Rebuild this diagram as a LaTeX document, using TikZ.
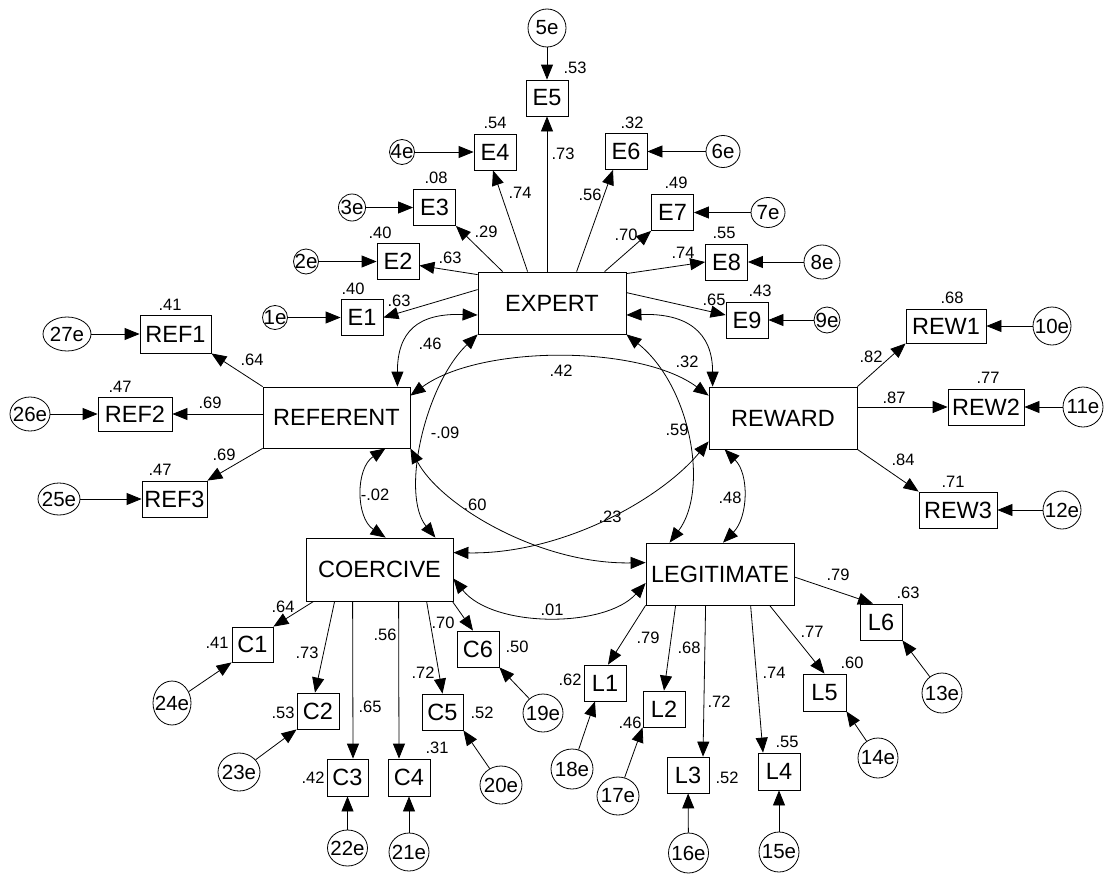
\documentclass[tikz,border=0pt]{standalone}
\usepackage{fontspec}
\setmainfont{Liberation Sans}
\usetikzlibrary{shapes.geometric,arrows.meta,calc}
\newcommand\errnode[5]{\node[err,minimum width=#4pt,minimum height=#5pt,label={[errlab,name=le#1]center:#1e}] (e#1) at (#2,#3) {};}
\newcommand\lbl[3]{\node[numlab] (#1) at (#2) {#3};}
\begin{document}
\begin{tikzpicture}[x=1pt,y=-1pt,
  >={Triangle[length=15pt,width=12pt]},
  lat/.style={draw,line width=0.8pt,minimum width=148pt,minimum height=62pt,inner sep=0pt,font=\fontsize{23.5}{25}\selectfont},
  obs/.style={draw,line width=0.8pt,minimum width=42pt,minimum height=36pt,inner sep=0pt,font=\fontsize{23.5}{25}\selectfont},
  err/.style={draw,ellipse,line width=0.8pt,inner sep=0pt},
  errlab/.style={inner sep=0pt,font=\fontsize{20.5}{22}\selectfont},
  numlab/.style={inner sep=0pt,font=\fontsize{16.5}{18}\selectfont},
  ld/.style={->,line width=0.8pt},
  cv/.style={<->,line width=0.8pt}]
\useasboundingbox (0,0) rectangle (1107,875);

% latent
\node[lat] (EXPERT) at (552,303) {EXPERT};
\node[lat,minimum width=147pt,minimum height=61pt] (REFERENT) at (336.5,417.5) {REFERENT};
\node[lat] (REWARD) at (783,418) {REWARD};
\node[lat,minimum width=147pt,minimum height=63pt] (COERCIVE) at (379.5,569.5) {COERCIVE};
\node[lat] (LEGITIMATE) at (720,574) {LEGITIMATE};

% observed
\node[obs] (E1) at (362,317.5) {E1};
\node[obs] (E2) at (398,261.5) {E2};
\node[obs] (E3) at (434.5,207.5) {E3};
\node[obs] (E4) at (495,152) {E4};
\node[obs] (E5) at (547,98) {E5};
\node[obs] (E6) at (626,151.5) {E6};
\node[obs] (E7) at (672.5,212.5) {E7};
\node[obs] (E8) at (726.5,262) {E8};
\node[obs] (E9) at (747,320) {E9};
\node[obs,minimum width=71pt,minimum height=38pt] (REF1) at (175.5,334) {REF1};
\node[obs,minimum width=74pt,minimum height=34pt] (REF2) at (135,414) {REF2};
\node[obs,minimum width=65pt,minimum height=36pt] (REF3) at (174.5,499) {REF3};
\node[obs,minimum width=80pt,minimum height=34pt] (REW1) at (946,326) {REW1};
\node[obs,minimum width=76pt,minimum height=36pt] (REW2) at (986,407) {REW2};
\node[obs,minimum width=78pt,minimum height=36pt] (REW3) at (958,510) {REW3};
\node[obs,minimum width=41pt,minimum height=35pt] (C1) at (252.5,644.5) {C1};
\node[obs] (C2) at (318,711) {C2};
\node[obs,minimum width=41pt,minimum height=37pt] (C3) at (347.5,777.5) {C3};
\node[obs,minimum height=37pt] (C4) at (409,777.5) {C4};
\node[obs,minimum width=41pt] (C5) at (442.5,712) {C5};
\node[obs] (C6) at (478,649) {C6};
\node[obs] (L1) at (605,683) {L1};
\node[obs] (L2) at (664,709) {L2};
\node[obs] (L3) at (688,775) {L3};
\node[obs,minimum height=37pt] (L4) at (779,771.5) {L4};
\node[obs,minimum width=43pt,minimum height=37pt] (L5) at (824.5,692.5) {L5};
\node[obs] (L6) at (881,622) {L6};

% errors
\errnode{1}{275}{317.5}{25}{24}
\errnode{2}{306}{261.5}{25}{25}
\errnode{3}{352}{207.5}{27}{27}
\errnode{4}{402}{152}{25}{25}
\errnode{5}{547}{28}{38}{38}
\errnode{6}{723}{151.5}{34}{32}
\errnode{7}{768}{212.5}{34}{30}
\errnode{8}{822}{262}{36}{34}
\errnode{9}{827}{320}{26}{26}
\errnode{10}{1052}{326}{38}{38}
\errnode{11}{1083}{407}{40}{40}
\errnode{12}{1062}{510}{38}{38}
\errnode{13}{942}{693}{40}{40}
\errnode{14}{878}{758}{40}{40}
\errnode{15}{779}{852}{40}{40}
\errnode{16}{688.5}{853}{40}{40}
\errnode{17}{618}{796}{42}{38}
\errnode{18}{572}{769}{42}{40}
\errnode{19}{543}{713}{40}{38}
\errnode{20}{501}{785}{42}{38}
\errnode{21}{409}{852}{40}{38}
\errnode{22}{347.5}{848}{40}{36}
\errnode{23}{239}{772}{42}{38}
\errnode{24}{172}{703}{38}{44}
\errnode{25}{59}{499}{42}{32}
\errnode{26}{30}{414}{40}{34}
\errnode{27}{67}{334}{48}{34}

% error arrows
\foreach \i/\t in {1/E1,2/E2,3/E3,4/E4,5/E5,6/E6,7/E7,8/E8,9/E9,10/REW1,11/REW2,12/REW3,15/L4,16/L3,21/C4,22/C3,25/REF3,26/REF2,27/REF1}
  \draw[ld] (e\i) -- (\t);
\draw[ld] (e13) -- (L6.south east);
\draw[ld] (e14) -- (L5.south east);
\draw[ld] (e17) -- (L2.south west);
\draw[ld] (e18) -- ($(L1.south)+(-10,0)$);
\draw[ld] (e19) -- (C6.south east);
\draw[ld] (e20) -- (C5.south east);
\draw[ld] (e23) -- (C2.south west);
\draw[ld] (e24) -- (C1.south west);

% loadings
\draw[ld] ($(EXPERT.north west)+(0,18)$) -- (E1.east);
\draw[ld] ($(EXPERT.north west)+(0,3)$) -- ($(E2.east)+(0,4)$);
\draw[ld] ($(EXPERT.north west)+(25,0)$) -- (E3.south east);
\draw[ld] ($(EXPERT.north west)+(50,0)$) -- ($(E4.south)+(-2,0)$);
\draw[ld] (EXPERT.north -| E5.south) -- (E5.south);
\draw[ld] ($(EXPERT.north west)+(99,0)$) -- ($(E6.south)+(-13,0)$);
\draw[ld] ($(EXPERT.north west)+(127,0)$) -- (E7.south west);
\draw[ld] ($(EXPERT.north east)+(0,2)$) -- (E8.west);
\draw[ld] ($(EXPERT.north east)+(0,21)$) -- ($(E9.west)+(0,-5)$);

\draw[ld] (REFERENT.north west) -- (REF1.south east);
\draw[ld] (REFERENT.west |- REF2.east) -- (REF2.east);
\draw[ld] (REFERENT.south west) -- (REF3.north east);

\draw[ld] (REWARD.north east) -- (REW1.south west);
\draw[ld] (REWARD.east |- REW2.west) -- (REW2.west);
\draw[ld] (REWARD.south east) -- (REW3.north west);

\draw[ld] ($(COERCIVE.south west)+(8,0)$) -- (C1.north east);
\draw[ld] ($(COERCIVE.south west)+(29,0)$) -- ($(C2.north)+(-3,0)$);
\draw[ld] ($(COERCIVE.south west)+(47,0)$) -- ($(C3.north)+(5.5,0)$);
\draw[ld] ($(COERCIVE.south west)+(93,0)$) -- ($(C4.north)+(-10,0)$);
\draw[ld] ($(COERCIVE.south west)+(121,0)$) -- (C5.north);
\draw[ld] ($(COERCIVE.south east)+(-1,0)$) -- ($(C6.north)+(-5,0)$);

\draw[ld] (LEGITIMATE.south west) -- ($(L1.north)+(3,0)$);
\draw[ld] ($(LEGITIMATE.south west)+(30,0)$) -- (L2.north);
\draw[ld] ($(LEGITIMATE.south west)+(60,0)$) -- ($(L3.north)+(15,0)$);
\draw[ld] ($(LEGITIMATE.south west)+(105,0)$) -- ($(L4.north)+(-16,0)$);
\draw[ld] ($(LEGITIMATE.south west)+(124,0)$) -- (L5.north);
\draw[ld] ($(LEGITIMATE.east)+(0,3)$) -- ($(L6.north)+(-8,0)$);

% covariances
\draw[cv] ($(EXPERT.west)+(0,12)$) .. controls +(-60,-2) and +(0,-55) .. ($(REFERENT.north east)+(-13,0)$);
\draw[cv] ($(EXPERT.east)+(0,12)$) .. controls +(60,-2) and +(0,-55) .. ($(REWARD.north west)+(4,0)$);
\draw[cv] (EXPERT.south west) .. controls +(-53,51) and +(-35,-43) .. ($(COERCIVE.north east)+(-18,0)$);
\draw[cv] (EXPERT.south east) .. controls +(64,51) and +(40,-53) .. ($(LEGITIMATE.north west)+(24,0)$);
\draw[cv] ($(REFERENT.north east)+(0,9)$) .. controls +(70,-51) and +(-69,-51) .. ($(REWARD.north west)+(0,9)$);
\draw[cv] ($(REFERENT.south east)+(-25,0)$) .. controls +(-30,20) and +(-30,-20) .. ($(COERCIVE.north west)+(80,0)$);
\draw[cv] (REFERENT.south east) .. controls +(30,57) and +(-106,2) .. ($(LEGITIMATE.north west)+(0,20)$);
\draw[cv] ($(REWARD.south west)+(0,-8)$) .. controls +(-49,59) and +(107,2) .. ($(COERCIVE.north east)+(0,15)$);
\draw[cv] ($(REWARD.south west)+(16,0)$) .. controls +(25,25) and +(25,-25) .. ($(LEGITIMATE.north)+(3,0)$);
\draw[cv] ($(COERCIVE.east)+(0,9)$) .. controls +(40,50) and +(-40,45) .. ($(LEGITIMATE.west)+(0,9)$);

% squared multiple correlations
\lbl{rE5}{575,68}{.53}
\lbl{rE4}{495,123}{.54}
\lbl{rE6}{632,123}{.32}
\lbl{rE3}{436,178}{.08}
\lbl{rE7}{676,183}{.49}
\lbl{rE2}{380,233}{.40}
\lbl{rE8}{724,233}{.55}
\lbl{rE1}{353,289}{.40}
\lbl{rE9}{760,291}{.43}
\lbl{rR1}{170,305}{.41}
\lbl{rR2}{120,387}{.47}
\lbl{rR3}{160,470}{.47}
\lbl{rW1}{952,298}{.68}
\lbl{rW2}{988,378}{.77}
\lbl{rW3}{953,482}{.71}
\lbl{rC1}{217,643}{.41}
\lbl{rC2}{283,713}{.53}
\lbl{rC3}{313,778}{.42}
\lbl{rC4}{437,748}{.31}
\lbl{rC5}{482,713}{.52}
\lbl{rC6}{517,647}{.50}
\lbl{rL1}{570,680}{.62}
\lbl{rL2}{630,723}{.46}
\lbl{rL3}{727,778}{.52}
\lbl{rL4}{787,742}{.55}
\lbl{rL5}{852,663}{.60}
\lbl{rL6}{908,593}{.63}

% loadings labels
\lbl{wE5}{563,154}{.73}
\lbl{wE4}{520,193}{.74}
\lbl{wE6}{590,195}{.56}
\lbl{wE3}{486,232}{.29}
\lbl{wE7}{626,235}{.70}
\lbl{wE2}{450,258}{.63}
\lbl{wE8}{683,253}{.74}
\lbl{wE1}{399,301}{.63}
\lbl{wE9}{714,300}{.65}
\lbl{wR1}{252,360}{.64}
\lbl{wR2}{210,403}{.69}
\lbl{wR3}{224,455}{.69}
\lbl{wW1}{871,357}{.82}
\lbl{wW2}{894,398}{.87}
\lbl{wW3}{903,460}{.84}
\lbl{wC1}{283,607}{.64}
\lbl{wC2}{307,653}{.73}
\lbl{wC3}{370,707}{.65}
\lbl{wC4}{385,635}{.56}
\lbl{wC5}{423,673}{.72}
\lbl{wC6}{443,623}{.70}
\lbl{wL6}{838,575}{.79}
\lbl{wL1}{648,638}{.79}
\lbl{wL2}{689,648}{.68}
\lbl{wL3}{719,702}{.72}
\lbl{wL4}{774,673}{.74}
\lbl{wL5}{812,632}{.77}

% covariance labels
\lbl{cER}{430,344}{.46}
\lbl{cEW}{687,362}{.32}
\lbl{cRW}{561,371}{.42}
\lbl{cEC}{445,433}{-.09}
\lbl{cEL}{677,430}{.59}
\lbl{cRC}{375,495}{-.02}
\lbl{cRL}{475,505}{.60}
\lbl{cWC}{610,517}{.23}
\lbl{cWL}{730,498}{.48}
\lbl{cCL}{552,610}{.01}
\end{tikzpicture}
\end{document}
